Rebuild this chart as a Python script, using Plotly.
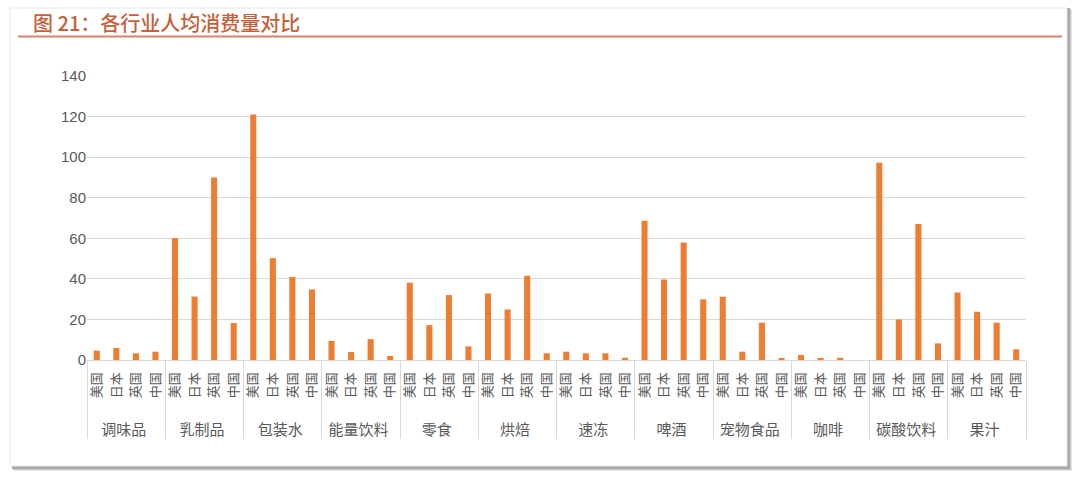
import plotly.graph_objects as go

groups = ["调味品", "乳制品", "包装水", "能量饮料", "零食", "烘焙", "速冻",
          "啤酒", "宠物食品", "咖啡", "碳酸饮料", "果汁"]
countries = ["美国", "日本", "英国", "中国"]
values = [
    [4.6, 5.9, 3.3, 4.1],      # 调味品
    [60.1, 31.3, 90.0, 18.2],  # 乳制品
    [121.0, 50.2, 40.9, 34.8], # 包装水
    [9.4, 3.9, 10.3, 2.0],     # 能量饮料
    [38.1, 17.2, 32.0, 6.7],   # 零食
    [32.8, 24.9, 41.5, 3.3],   # 烘焙
    [4.1, 3.3, 3.3, 1.1],      # 速冻
    [68.6, 39.7, 57.9, 29.9],  # 啤酒
    [31.2, 4.1, 18.4, 0.8],    # 宠物食品
    [2.5, 0.8, 1.1, 0.0],      # 咖啡
    [97.2, 20.0, 67.1, 8.2],   # 碳酸饮料
    [33.3, 23.8, 18.4, 5.3],   # 果汁
]
y_ticks = [0, 20, 40, 60, 80, 100, 120, 140]
title_text = "图 21：各行业人均消费量对比"

W, H = 1080, 481
L, R, T, B = 87, 1026, 76, 360  # plot area in px

outer = []
inner = []
ys = []
for g, vals in zip(groups, values):
    for c, v in zip(countries, vals):
        outer.append('<br><span style="font-size:15px">' + g + '</span>')
        inner.append(c)
        ys.append(v)

fig = go.Figure(go.Bar(x=[outer, inner], y=ys, marker_color="#ED7D31",
                       marker_line_width=0, hoverinfo="skip"))

def px_x(p):
    return (p - L) / (R - L)

def px_y(p):
    return (B - p) / (B - T)

shapes = []
# shadow
for i, col in enumerate(["#E6E6E6", "#C8C8C8", "#A8A8A8"]):
    off = 4 - i
    shapes.append(dict(type="rect", xref="paper", yref="paper", layer="below",
                       x0=px_x(10 + off), x1=px_x(1068 + off),
                       y0=px_y(467 + off), y1=px_y(8 + off - 2),
                       fillcolor=col, line_width=0))
# card
shapes.append(dict(type="rect", xref="paper", yref="paper", layer="below",
                   x0=px_x(10), x1=px_x(1067), y0=px_y(466), y1=px_y(8),
                   fillcolor="white", line=dict(color="#E4E6E6", width=1)))
# title underline
shapes.append(dict(type="line", xref="paper", yref="paper",
                   x0=px_x(18), x1=px_x(1062), y0=px_y(36.5), y1=px_y(36.5),
                   line=dict(color="#D9826A", width=2)))

fig.update_layout(
    width=W, height=H,
    margin=dict(l=L, r=W - R, t=T, b=H - B),
    paper_bgcolor="white", plot_bgcolor="rgba(0,0,0,0)",
    bargap=0.69,
    showlegend=False,
    shapes=shapes,
    font=dict(family="Noto Sans CJK SC, sans-serif", color="#595959"),
    annotations=[dict(text=title_text, xref="paper", yref="paper",
                      x=px_x(31), y=px_y(23), xanchor="left", yanchor="middle",
                      showarrow=False,
                      font=dict(size=20, color="#C4613A", weight=500,
                                family="Noto Sans CJK SC, sans-serif"))],
)
fig.update_yaxes(range=[0, 140], tickvals=y_ticks, showgrid=True,
                 gridcolor="#D9D9D9", gridwidth=1, zeroline=False,
                 showline=False, ticks="", ticklen=0,
                 tickfont=dict(size=15, color="#595959",
                               family="Liberation Sans, Arial, sans-serif"))
fig.update_xaxes(type="multicategory", tickangle=-90, showline=True,
                 linecolor="#D9D9D9", linewidth=1, showdividers=True,
                 dividercolor="#D9D9D9", dividerwidth=1,
                 tickfont=dict(size=13, color="#595959"),
                 ticks="", ticklabelstandoff=6,
                 showgrid=False)

fig.write_html("out.html", config={"displayModeBar": False},
               post_script="document.body.style.margin='0px';document.body.style.overflow='hidden';")
